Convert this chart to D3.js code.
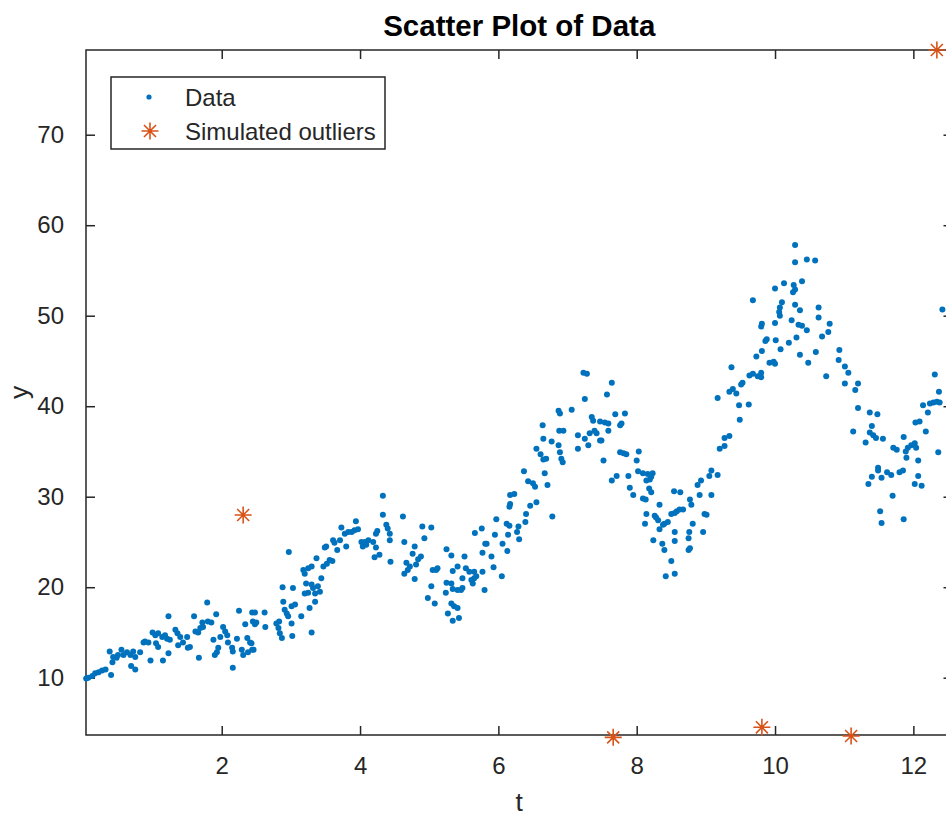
<!DOCTYPE html>
<html>
<head>
<meta charset="utf-8">
<script src="https://cdn.jsdelivr.net/npm/d3@7"></script>
<style>
  html, body { margin: 0; padding: 0; background: #ffffff; }
  svg { display: block; font-family: "Liberation Sans", Arial, Helvetica, sans-serif; }
</style>
</head>
<body>
<svg id="chart" width="946" height="816"></svg>
<script>
// ---------------- data ----------------
const tData = [
0.04,0.07,0.13,0.17,0.22,0.27,0.32,0.38,0.42,0.40,0.43,0.48,0.50,0.55,0.58,0.63,0.68,0.72,0.75,0.69,0.75,0.82,0.87,0.89,0.94,1.00,1.04,1.08,1.14,1.18,1.21,1.25,0.97,1.15,1.23,1.05,1.08,1.23,1.33,1.36,1.37,1.40,1.44,1.50,1.51,1.54,1.60,1.62,1.66,1.69,1.72,1.73,1.79,1.80,1.85,1.92,1.67,1.88,1.90,1.93,1.98,1.95,2.02,2.05,2.08,2.09,2.15,2.16,2.16,2.22,2.25,2.29,2.31,2.34,2.37,2.38,2.41,2.44,2.45,2.48,2.50,2.44,2.48,2.43,2.46,2.62,2.63,
2.79,2.82,2.84,2.87,2.83,2.88,2.97,2.89,2.91,2.94,2.96,3.01,3.01,3.03,3.06,3.02,3.15,3.27,3.30,3.35,3.35,3.32,3.30,3.25,3.20,3.22,3.18,3.20,3.25,3.30,3.37,3.39,3.42,3.44,3.47,3.52,3.56,3.60,3.49,3.51,3.61,3.63,3.67,3.71,3.73,3.78,3.80,3.83,3.88,3.92,3.94,3.97,4.02,4.07,4.09,4.04,4.12,4.19,4.23,4.25,4.23,4.21,4.28,4.33,4.33,4.38,4.40,4.43,4.43,4.44,4.62,4.64,4.67,4.69,4.64,4.72,4.76,4.79,4.81,4.79,4.84,4.88,4.90,4.93,5.03,5.05,5.10,5.03,4.98,5.08,
5.25,5.32,5.12,5.34,5.41,5.51,5.53,5.58,5.65,5.77,5.25,5.32,5.34,5.41,5.46,5.48,5.48,5.61,5.65,5.68,5.63,5.24,5.32,5.36,5.41,5.27,5.34,5.43,5.80,6.05,5.93,5.90,5.77,5.81,5.83,5.66,5.76,5.95,5.97,6.06,6.13,6.14,6.12,6.16,6.27,6.29,6.30,6.40,6.39,6.16,6.17,6.17,6.23,6.46,6.55,6.37,6.43,6.50,6.53,6.67,6.71,6.78,6.55,6.61,6.65,6.69,6.65,6.64,6.77,6.87,6.89,6.91,6.93,6.87,6.89,6.88,6.94,7.06,7.15,7.15,7.25,7.30,7.25,7.23,7.28,7.35,7.37,7.42,7.32,7.39,7.47,
7.64,7.57,7.47,7.54,7.59,7.69,7.83,7.76,7.78,7.49,7.59,7.52,7.76,7.81,7.85,8.03,8.00,7.64,7.71,7.88,7.90,7.95,8.02,8.09,8.16,8.21,8.23,8.14,8.19,8.18,8.21,8.09,8.13,8.33,8.14,8.12,8.26,8.28,8.31,8.40,8.45,8.33,8.38,8.24,8.37,8.40,8.50,8.42,8.55,8.55,8.55,8.54,8.63,8.50,8.55,8.58,8.62,8.67,8.77,8.79,8.81,8.76,8.75,8.77,8.75,8.91,8.88,8.93,8.98,9.01,8.96,9.08,9.08,9.17,9.05,9.20,9.27,9.27,9.34,9.17,9.34,9.39,9.44,9.37,9.48,9.62,9.49,9.51,9.53,9.63,9.68,9.75,9.80,9.80,9.73,9.81,9.86,9.92,9.68,9.80,9.81,
10.29,10.29,10.46,10.58,10.00,10.13,10.27,10.29,10.26,10.39,10.10,10.07,10.06,10.07,10.29,10.36,10.63,10.63,10.24,10.34,10.39,10.46,10.00,10.79,10.77,10.68,10.31,10.20,10.08,10.01,9.88,10.36,10.48,10.59,9.98,10.00,10.74,10.93,10.92,11.01,11.06,11.01,11.16,11.20,11.20,11.13,11.37,11.48,11.40,11.37,11.42,11.46,11.56,11.31,11.49,11.49,11.40,11.35,11.54,11.62,11.68,11.70,11.52,11.54,11.86,11.71,11.76,11.86,11.89,11.92,11.97,12.02,12.04,11.90,12.07,11.80,11.85,12.07,12.02,12.12,12.03,12.09,12.18,12.21,12.14,12.24,12.29,12.34,12.38,12.36,12.31,12.37,12.42
];
const yData = [
9.9,10.0,10.2,10.5,10.6,10.8,10.9,12.9,11.7,10.3,12.3,12.2,12.5,13.1,12.5,12.8,12.5,12.9,12.3,11.3,10.9,12.8,13.9,14.0,13.9,15.0,14.7,14.9,14.5,14.7,14.3,14.2,11.9,11.9,12.7,13.8,13.4,16.8,15.3,14.9,13.6,14.5,13.9,14.5,13.3,13.4,16.8,15.1,15.0,15.5,16.1,15.6,18.3,16.2,16.1,17.0,12.2,14.2,12.5,12.8,14.5,13.3,15.6,15.1,14.7,13.9,13.3,12.9,11.1,14.3,17.4,13.1,12.5,15.9,14.4,12.8,13.9,17.2,16.2,17.2,16.1,13.1,15.9,13.8,13.1,17.2,15.6,
16.0,15.5,14.9,14.4,16.2,20.0,23.9,18.4,17.5,17.1,16.8,17.9,16.0,19.9,18.1,14.6,16.8,17.7,15.0,18.4,19.3,19.9,20.3,19.4,19.3,20.4,21.9,21.5,22.1,22.3,23.2,20.1,19.5,21.0,22.3,22.6,23.0,22.9,24.4,24.5,25.2,24.9,24.1,25.2,26.6,25.9,24.5,26.1,26.1,26.3,27.3,26.4,25.0,25.0,24.7,24.5,25.2,25.0,25.9,26.2,24.4,23.3,23.6,30.1,28.0,26.9,26.5,25.9,25.2,22.8,27.8,25.0,22.7,21.9,21.5,22.3,23.7,24.5,22.5,20.9,23.1,23.4,26.7,25.4,26.6,21.9,21.9,20.1,18.8,18.2,
24.2,23.5,22.1,21.8,22.3,23.4,22.1,21.7,21.7,21.7,20.5,20.4,19.8,19.7,19.7,19.9,21.0,20.8,21.0,21.2,20.4,19.4,18.2,17.9,17.7,17.1,16.3,16.6,19.7,21.2,22.2,23.4,23.8,24.8,24.8,26.0,26.5,25.8,27.5,24.8,24.0,25.8,27.0,26.8,26.1,26.7,25.3,28.1,27.2,28.9,29.2,30.2,30.3,29.0,29.4,32.8,31.7,31.5,31.1,32.6,31.3,27.8,35.3,34.7,34.1,34.2,36.4,37.9,36.1,35.7,34.9,34.2,33.8,39.5,39.2,37.3,37.3,39.6,36.8,35.3,36.4,35.7,40.8,43.7,43.6,38.8,38.4,37.0,37.0,37.3,36.2,
42.6,41.3,38.3,38.2,38.1,39.1,39.2,37.9,38.1,36.2,37.3,34.0,34.9,34.8,34.7,35.0,34.0,31.8,32.3,32.3,31.0,30.2,32.8,32.6,32.5,32.2,32.6,31.8,31.9,30.9,30.5,29.8,29.7,29.1,28.1,27.0,27.9,27.7,27.4,27.0,27.2,26.4,26.9,25.2,24.8,24.1,22.9,21.2,21.5,25.1,26.1,30.6,30.5,28.1,28.2,28.4,28.6,28.6,29.7,29.1,27.0,26.1,25.4,24.3,24.1,30.2,31.3,31.8,28.1,28.0,26.1,30.2,32.9,32.4,32.3,35.3,35.6,36.5,36.7,40.9,41.6,41.9,41.4,44.3,40.1,40.2,38.5,42.4,42.6,43.4,43.6,43.3,43.2,43.7,45.5,46.1,47.2,44.8,51.7,48.8,49.1,
57.8,55.9,56.2,56.1,53.0,53.6,53.4,52.9,52.6,53.8,51.5,50.9,50.4,50.0,51.2,50.6,50.9,49.8,49.5,49.0,48.9,48.4,49.2,49.1,48.2,47.7,47.6,47.0,46.3,47.3,47.4,45.7,44.8,46.0,44.9,44.7,43.3,46.2,45.1,44.4,43.7,42.5,41.8,42.5,39.8,37.2,39.3,39.1,37.8,37.1,36.8,36.5,36.4,36.0,33.2,32.9,32.2,31.4,32.1,32.7,32.4,30.1,28.4,27.1,27.5,35.4,35.2,36.6,35.0,35.4,35.7,35.9,35.4,34.3,34.0,32.7,32.9,32.3,31.4,31.2,38.2,38.3,37.2,39.3,40.1,40.3,40.4,40.5,40.4,34.9,43.5,41.6,50.7
];
const tOut = [2.31, 7.66, 9.81, 11.10, 12.34];
const yOut = [27.98, 3.41, 4.52, 3.56, 79.36];

const xTicks = [2, 4, 6, 8, 10, 12];
const yTicks = [10, 20, 30, 40, 50, 60, 70];
const xDomain = [0.0376, 12.566];
const yDomain = [3.67, 79.36];
const legendLabels = ["Data", "Simulated outliers"];
const titleText = "Scatter Plot of Data";
const xLabel = "t";
const yLabel = "y";

// ---------------- drawing ----------------
const axisColor = "#262626";
const blue = "#0072BD";
const orange = "#D95319";
const L = 86, R = 952.5, T = 50, B = 735;
const tickLen = 9;

const svg = d3.select("#chart");
svg.append("rect").attr("width", 946).attr("height", 816).attr("fill", "#ffffff");

const x = d3.scaleLinear().domain(xDomain).range([L, R]);
const y = d3.scaleLinear().domain(yDomain).range([B, T]);

// axes box + ticks (MATLAB style: ticks inside, on all four sides)
const g = svg.append("g");
g.append("rect").attr("x", L).attr("y", T).attr("width", R - L).attr("height", B - T)
  .attr("fill", "none").attr("stroke", axisColor).attr("stroke-width", 1.5);

const bottomAxis = d3.axisBottom(x).tickValues(xTicks).tickSizeInner(-tickLen).tickSizeOuter(0).tickPadding(22);
const topAxis = d3.axisTop(x).tickValues(xTicks).tickSizeInner(-tickLen).tickSizeOuter(0).tickFormat("");
const leftAxis = d3.axisLeft(y).tickValues(yTicks).tickSizeInner(-tickLen).tickSizeOuter(0).tickPadding(22);
const rightAxis = d3.axisRight(y).tickValues(yTicks).tickSizeInner(-tickLen).tickSizeOuter(0).tickFormat("");

function styleAxis(sel) {
  sel.select(".domain").remove();
  sel.selectAll(".tick line").attr("stroke", axisColor).attr("stroke-width", 1.5);
  sel.selectAll(".tick text").attr("fill", axisColor).attr("font-size", 24)
    .attr("font-family", "Liberation Sans, Arial, sans-serif");
}
g.append("g").attr("transform", `translate(0,${B})`).call(bottomAxis).call(styleAxis);
g.append("g").attr("transform", `translate(0,${T})`).call(topAxis).call(styleAxis);
g.append("g").attr("transform", `translate(${L},0)`).call(leftAxis).call(styleAxis);
g.append("g").attr("transform", `translate(${R},0)`).call(rightAxis).call(styleAxis);

// data points
svg.append("g").selectAll("circle").data(tData.map((t, i) => [t, yData[i]]))
  .join("circle")
  .attr("cx", d => x(d[0])).attr("cy", d => y(d[1]))
  .attr("r", 3).attr("fill", blue);

// asterisk marker path
function asterisk(cx, cy, r) {
  const d = r * Math.SQRT1_2;
  return `M${cx - r},${cy}L${cx + r},${cy}M${cx},${cy - r}L${cx},${cy + r}` +
         `M${cx - d},${cy - d}L${cx + d},${cy + d}M${cx - d},${cy + d}L${cx + d},${cy - d}`;
}
svg.append("g").selectAll("path").data(tOut.map((t, i) => [t, yOut[i]]))
  .join("path")
  .attr("d", d => asterisk(x(d[0]), y(d[1]), 8.5))
  .attr("fill", "none").attr("stroke", orange).attr("stroke-width", 1.6);

// title and axis labels
svg.append("text").attr("x", (L + R) / 2).attr("y", 36).attr("text-anchor", "middle")
  .attr("font-size", 29.5).attr("font-weight", "bold").attr("fill", "#000000").text(titleText);
svg.append("text").attr("x", (L + R) / 2).attr("y", 811).attr("text-anchor", "middle")
  .attr("font-size", 26.4).attr("fill", axisColor).text(xLabel);
svg.append("text").attr("transform", `translate(28,${(T + B) / 2}) rotate(-90)`).attr("text-anchor", "middle")
  .attr("font-size", 26.4).attr("fill", axisColor).text(yLabel);

// legend
const lg = svg.append("g");
lg.append("rect").attr("x", 111).attr("y", 77).attr("width", 274).attr("height", 72)
  .attr("fill", "#ffffff").attr("stroke", axisColor).attr("stroke-width", 1.5);
lg.append("circle").attr("cx", 149).attr("cy", 97).attr("r", 2.6).attr("fill", blue);
lg.append("path").attr("d", asterisk(150, 131, 8.5)).attr("fill", "none")
  .attr("stroke", orange).attr("stroke-width", 1.6);
lg.selectAll("text.lab").data(legendLabels).join("text").attr("class", "lab")
  .attr("x", 185).attr("y", (d, i) => 105.5 + i * 34)
  .attr("font-size", 24).attr("fill", axisColor).text(d => d);
</script>
</body>
</html>
